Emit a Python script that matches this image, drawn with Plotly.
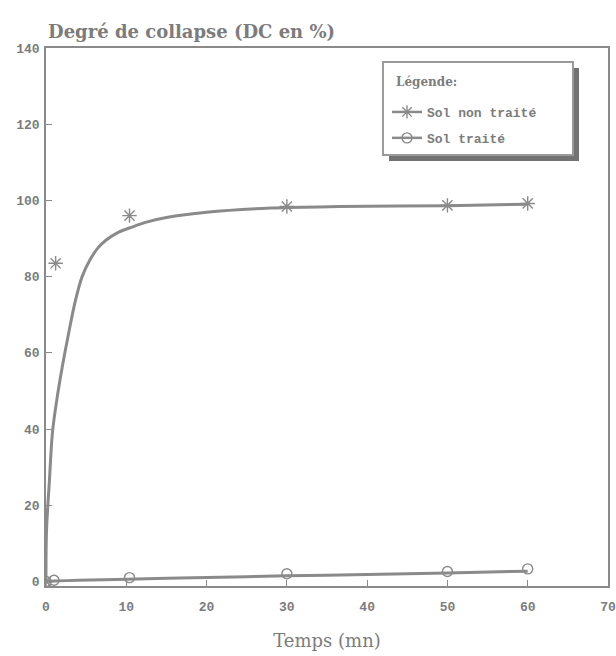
import plotly.graph_objects as go

# Collapse degree (DC, %) versus time (mn) for untreated and treated soil
# Measured points
t_untreated = [0, 1.2, 10.4, 30, 50, 60]
dc_untreated = [0, 83.5, 96.0, 98.4, 98.7, 99.2]
t_treated = [0, 1, 10.4, 30, 50, 60]
dc_treated = [0, 0.3, 1.0, 2.0, 2.6, 3.3]

# Fitted trend curves
fit_t_untreated = [0, 0.06, 0.44, 0.8, 1.3, 2.0, 2.9, 3.7, 4.5, 5.5, 6.5, 7.5, 9.0,
                   10.7, 12.5, 15, 20, 28, 36.5, 50, 60]
fit_dc_untreated = [0, 13, 27, 39, 47, 56, 66, 74, 80, 84.5, 87.6, 89.6, 91.6,
                    93.0, 94.3, 95.5, 96.9, 98.0, 98.4, 98.6, 99.0]
fit_t_treated = [0, 1, 4, 10, 20, 30, 40, 50, 60]
fit_dc_treated = [0, 0.1, 0.3, 0.6, 1.0, 1.5, 1.8, 2.2, 2.7]

series_names = ["Sol non traité", "Sol traité"]
x_ticks = [0, 10, 20, 30, 40, 50, 60, 70]
y_ticks = [0, 20, 40, 60, 80, 100, 120, 140]

GREY = "#8a8a8a"
TEXT = "#7c7c7c"

fig = go.Figure()

# trend lines
fig.add_trace(go.Scatter(x=fit_t_untreated, y=fit_dc_untreated, mode="lines",
                         line=dict(color=GREY, width=3, shape="spline", smoothing=1.0),
                         showlegend=False, hoverinfo="skip"))
fig.add_trace(go.Scatter(x=fit_t_treated, y=fit_dc_treated, mode="lines",
                         line=dict(color=GREY, width=3, shape="spline", smoothing=0.6),
                         showlegend=False, hoverinfo="skip"))

# measured points
fig.add_trace(go.Scatter(x=t_untreated, y=dc_untreated, mode="markers",
                         marker=dict(symbol="asterisk-open", size=12, color=GREY,
                                     line=dict(color=GREY, width=1.4)),
                         showlegend=False))
fig.add_trace(go.Scatter(x=t_treated, y=dc_treated, mode="markers",
                         marker=dict(symbol="circle-open", size=10, color=GREY,
                                     line=dict(color=GREY, width=1.4)),
                         showlegend=False))

# legend entries (line + marker symbol)
for i, (name, sym, sz) in enumerate([(series_names[0], "asterisk-open", 11),
                                     (series_names[1], "circle-open", 10)]):
    fig.add_trace(go.Scatter(x=[None], y=[None], mode="lines+markers", name=name,
                             legendgroup=f"g{i}",
                             line=dict(color=GREY, width=2.5),
                             marker=dict(symbol=sym, size=sz, color=GREY,
                                         line=dict(color=GREY, width=1.4))))

axis_common = dict(
    showline=True, linecolor=GREY, linewidth=1.5, mirror=True,
    showgrid=False, zeroline=False, automargin=False,
    ticks="inside", ticklen=6, tickcolor=GREY, tickwidth=1.2,
    tickfont=dict(family="Liberation Mono", size=13, color=TEXT, weight="bold"),
)

fig.update_xaxes(range=[0, 70], tickvals=x_ticks, ticklabelstandoff=8, **axis_common,
                 title=dict(text="Temps (mn)", standoff=20,
                            font=dict(family="DejaVu Serif", size=18, color=TEXT)))
fig.update_yaxes(range=[-1.2, 140], tickvals=y_ticks, ticklabelstandoff=2, **axis_common)

# legend frame: drop shadow, then white box with grey border
fig.add_shape(type="rect", xref="paper", yref="paper",
              x0=0.6103, x1=0.9484, y0=0.790, y1=0.9628,
              fillcolor="#727272", line=dict(width=0), layer="above")
fig.add_shape(type="rect", xref="paper", yref="paper",
              x0=0.5996, x1=0.9377, y0=0.801, y1=0.974,
              fillcolor="white", line=dict(color="#9a9a9a", width=2), layer="above")
fig.add_annotation(text="<b>Légende:</b>", xref="paper", yref="paper",
                   x=0.62, y=(586 - 82) / 538, xanchor="left", yanchor="middle",
                   showarrow=False,
                   font=dict(family="DejaVu Serif", size=12, color=TEXT))

fig.update_layout(
    width=616, height=656,
    margin=dict(l=46, r=8, t=48, b=70),
    paper_bgcolor="white", plot_bgcolor="white",
    title=dict(text="<b>Degré de collapse (DC en %)</b>",
               x=0.078, xanchor="left", xref="container",
               y=1 - 32 / 656, yanchor="middle", yref="container",
               font=dict(family="DejaVu Serif", size=18, color=TEXT)),
    legend=dict(x=(387 - 46) / 562, y=(586 - 97) / 538, xanchor="left", yanchor="top",
                bgcolor="rgba(0,0,0,0)", borderwidth=0,
                itemwidth=30,
                font=dict(family="Liberation Mono", size=13, color=TEXT, weight="bold"),
                tracegroupgap=6),
    showlegend=True,
)

fig.write_html("out.html")
